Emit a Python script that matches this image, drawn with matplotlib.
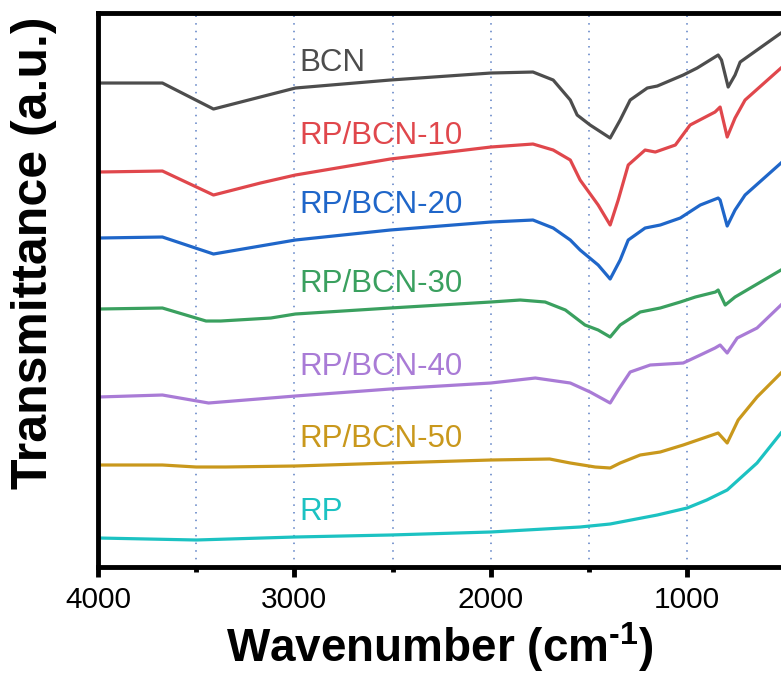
import matplotlib.pyplot as plt

# Font sizes and line parameters for the figure
FONT_SIZE_LABEL = 22.5
FONT_SIZE_TICKS = 21.5
FONT_SIZE_XLABEL = 33
FONT_SIZE_YLABEL = 36
LINE_WIDTH = 2.3
SPINE_WIDTH = 3.5

# FTIR spectra: wavenumber (cm-1) and transmittance (a.u., offset stacked)
bcn_wn = [4000, 3672, 3412, 2995, 2512, 2000, 1785, 1682, 1595, 1560, 1494, 1392, 1341, 1290, 1203, 1152,
          1020, 949, 842, 825, 791, 756, 730, 522]
bcn_t = [484, 484, 458, 479, 487, 494, 495, 487, 467, 452, 442, 429, 447, 467, 479, 481,
         492, 499, 512, 507, 480, 492, 505, 534]

rp10_wn = [4000, 3672, 3412, 3173, 2995, 2512, 2000, 1785, 1682, 1595, 1545, 1453, 1392, 1351, 1300, 1214,
           1162, 1060, 985, 858, 832, 796, 756, 705, 522]
rp10_t = [395, 396, 372, 384, 392, 408, 420, 423, 417, 407, 387, 362, 342, 367, 402, 417,
          415, 422, 442, 455, 460, 430, 449, 467, 499]

rp20_wn = [4000, 3672, 3412, 2995, 2512, 2000, 1785, 1682, 1595, 1545, 1453, 1392, 1341, 1300, 1214, 1137,
           1035, 933, 842, 832, 796, 756, 705, 522]
rp20_t = [329, 330, 313, 327, 337, 345, 347, 339, 327, 317, 302, 288, 307, 327, 339, 342,
          349, 362, 369, 367, 341, 357, 372, 404]

rp30_wn = [4000, 3672, 3450, 3375, 3120, 2995, 2512, 2000, 1850, 1723, 1620, 1520, 1453, 1392, 1341, 1239,
           1137, 1035, 958, 856, 842, 806, 756, 522]
rp30_t = [258, 259, 246, 246, 249, 253, 259, 265, 267, 265, 257, 242, 237, 230, 242, 255,
          259, 265, 270, 275, 277, 262, 270, 297]

rp40_wn = [4000, 3672, 3437, 2995, 2512, 2000, 1773, 1595, 1494, 1392, 1351, 1290, 1188, 1020, 933, 858,
           832, 796, 745, 644, 522]
rp40_t = [170, 172, 164, 171, 178, 184, 189, 184, 175, 164, 177, 195, 202, 204, 212, 219,
          222, 214, 229, 239, 262]

rp50_wn = [4000, 3672, 3500, 3350, 2995, 2512, 2000, 1700, 1595, 1468, 1392, 1341, 1239, 1137, 1020, 842,
           796, 740, 644, 522]
rp50_t = [102, 102, 100, 100, 101, 104, 107, 108, 104, 100, 99, 104, 112, 115, 122, 134,
          124, 147, 170, 194]

rp_wn = [4000, 3500, 2995, 2512, 2000, 1545, 1392, 1152, 1000, 900, 796, 644, 522]
rp_t = [29, 27, 30, 32, 35, 40, 43, 52, 59, 67, 77, 104, 134]

labels = ["BCN", "RP/BCN-10", "RP/BCN-20", "RP/BCN-30", "RP/BCN-40", "RP/BCN-50", "RP"]
label_y = [504, 431, 362, 283, 200, 128, 55]
colors = ["#4d4d4d", "#e0474c", "#1f66c9", "#3aa05f", "#a97bd6", "#c9981c", "#1cc2c2"]

spectra = [(bcn_wn, bcn_t), (rp10_wn, rp10_t), (rp20_wn, rp20_t), (rp30_wn, rp30_t),
           (rp40_wn, rp40_t), (rp50_wn, rp50_t), (rp_wn, rp_t)]

plt.rcParams["font.family"] = ["Liberation Sans", "DejaVu Sans"]
plt.rcParams["mathtext.default"] = "regular"

fig = plt.figure(figsize=(7.81, 6.75), dpi=100)
ax = fig.add_axes([0.1255, 0.16, 0.8745, 0.8207])

# Dotted guide lines every 500 cm-1
for wn in [3500, 3000, 2500, 2000, 1500, 1000]:
    ax.axvline(wn, color="#5b7fc4", linestyle=(0, (1, 4)), linewidth=1.1, zorder=0)

for (wn, t), color, label, ly in zip(spectra, colors, labels, label_y):
    ax.plot(wn, t, color=color, linewidth=LINE_WIDTH, solid_joinstyle="round")
    ax.text(2975, ly, label, color=color, fontsize=FONT_SIZE_LABEL, ha="left", va="center")

ax.set_xlim(4000, 522)
ax.set_ylim(0, 554)
ax.set_xticks([4000, 3000, 2000, 1000])
ax.set_xticks([3500, 2500, 1500], minor=True)
ax.set_yticks([])
ax.tick_params(axis="x", which="major", length=7, width=SPINE_WIDTH, labelsize=FONT_SIZE_TICKS, pad=7)
ax.tick_params(axis="x", which="minor", length=3.5, width=SPINE_WIDTH)

for side in ["left", "bottom", "top"]:
    ax.spines[side].set_linewidth(SPINE_WIDTH)
ax.spines["right"].set_visible(False)

ax.set_xlabel("Wavenumber (cm$^{\u2010 1}$)", fontsize=FONT_SIZE_XLABEL, fontweight="bold", labelpad=4)
fig.text(0.043, 0.625, "Transmittance (a.u.)", fontsize=FONT_SIZE_YLABEL, fontweight="bold",
         rotation=90, ha="center", va="center")

plt.savefig("out.png", dpi=100)
